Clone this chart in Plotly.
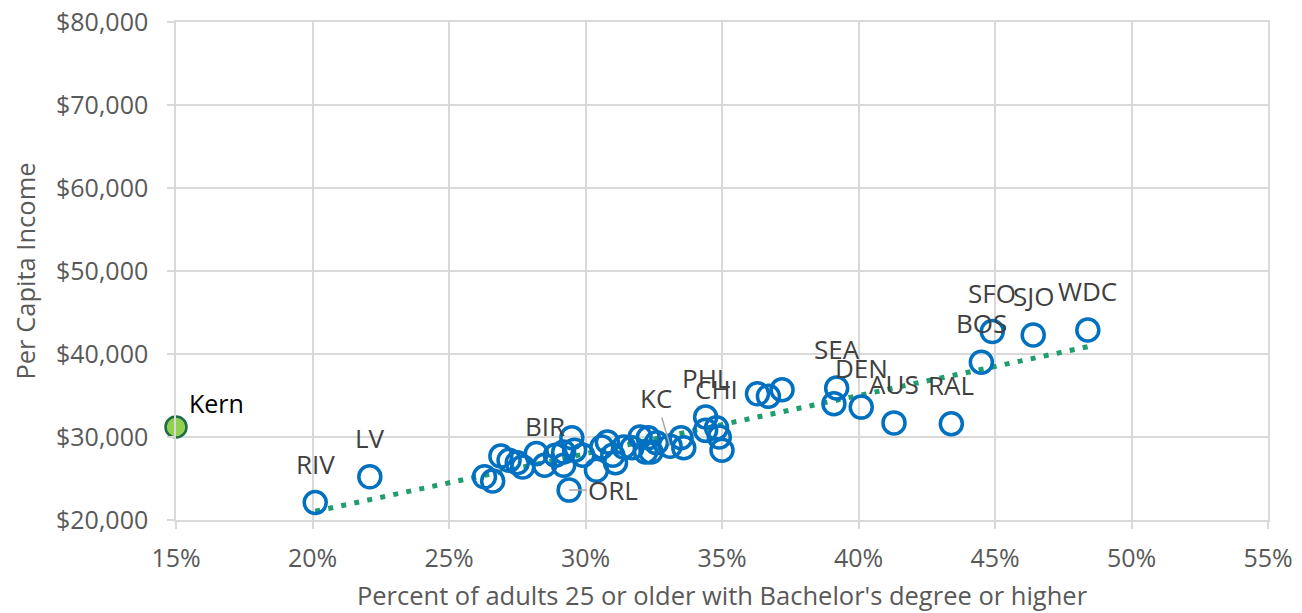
import numpy as np
import plotly.graph_objects as go

# Metro areas: percent of adults 25+ with bachelor's degree, per capita income
edu_pct = [20.1, 22.1, 26.3, 26.6, 26.9, 27.2, 27.5, 27.7, 28.2, 28.5,
           28.9, 29.2, 29.5, 29.2, 29.6, 29.4, 29.9, 30.4, 30.6, 30.8,
           31.0, 31.1, 31.4, 31.7, 32.0, 32.2, 32.4, 32.3, 32.6, 33.1,
           33.5, 33.6, 34.4, 34.4, 34.8, 34.9, 35.0, 36.3, 36.7, 37.2,
           39.2, 39.1, 40.1, 41.3, 43.4, 44.5, 44.9, 46.4, 48.4]
income = [22100, 25200, 25200, 24700, 27700, 27200, 26900, 26400, 28000, 26600,
          27800, 26600, 29900, 28200, 28400, 23600, 27800, 26000, 28800, 29400,
          27800, 26900, 28800, 28700, 30000, 28200, 28200, 29900, 29300, 28900,
          29900, 28700, 32400, 30800, 31100, 30000, 28400, 35200, 34900, 35700,
          35900, 34000, 33600, 31700, 31600, 39000, 42700, 42300, 42900]
labels = ["RIV", "LV", "", "", "", "", "", "", "", "BIR",
          "", "", "", "", "", "ORL", "", "", "", "",
          "", "", "", "", "", "", "", "", "", "KC",
          "", "", "PHL", "", "CHI", "", "", "", "", "",
          "SEA", "", "DEN", "AUS", "RAL", "BOS", "SFO", "SJO", "WDC"]

kern_pct = [15.0]
kern_income = [31200]
kern_label = "Kern"

x_ticks = [15, 20, 25, 30, 35, 40, 45, 50, 55]
y_ticks = [20000, 30000, 40000, 50000, 60000, 70000, 80000]

FONT = "Open Sans"
LABEL_COLOR = "#404040"
AXIS_TEXT = "#595959"
GRID = "#D9D9D9"

fig = go.Figure()

# Linear trendline fitted to the metro points
slope, intercept = np.polyfit(edu_pct, income, 1)
tx = np.array([min(edu_pct), max(edu_pct)])
fig.add_trace(go.Scatter(
    x=tx, y=slope * tx + intercept, mode="lines",
    line=dict(color="#1F9E6C", width=5, dash="5px,8.3px"),
    hoverinfo="skip", showlegend=False))

fig.add_trace(go.Scatter(
    x=edu_pct, y=income, mode="markers",
    marker=dict(symbol="circle-open", size=22, color="#0070C0",
                line=dict(width=3.5, color="#0070C0")),
    showlegend=False))

fig.add_trace(go.Scatter(
    x=kern_pct, y=kern_income, mode="markers",
    marker=dict(symbol="circle", size=21, color="#92D050",
                line=dict(width=2.5, color="#1E6B47")),
    cliponaxis=False, showlegend=False))

special = {"KC": dict(ax=-14, ay=-48),
           "ORL": dict(ax=44, ay=0)}
for xv, yv, lab in zip(edu_pct, income, labels):
    if not lab:
        continue
    if lab in special:
        s = special[lab]
        fig.add_annotation(x=xv, y=yv, text=lab, showarrow=True,
                           ax=s["ax"], ay=s["ay"], arrowhead=0,
                           arrowwidth=1.5, arrowcolor="#A6A6A6", standoff=0,
                           font=dict(family=FONT, size=26, color=LABEL_COLOR))
    else:
        fig.add_annotation(x=xv, y=yv, text=lab, showarrow=False,
                           yshift=39, xanchor="center", yanchor="middle",
                           font=dict(family=FONT, size=26, color=LABEL_COLOR))

fig.add_annotation(x=kern_pct[0], y=kern_income[0], text=kern_label,
                   showarrow=False, xshift=40, yshift=24,
                   xanchor="center", yanchor="middle",
                   font=dict(family=FONT, size=25, color="#000000"))

# The page adds an 8px body margin, so the margins are offset accordingly
fig.update_layout(
    width=1302, height=613,
    margin=dict(l=168, r=42, t=14, b=101),
    paper_bgcolor="white", plot_bgcolor="white",
    font=dict(family=FONT, color=AXIS_TEXT),
)
fig.update_xaxes(
    range=[15, 55], tickvals=x_ticks,
    ticktext=[f"{v}%" for v in x_ticks],
    showgrid=True, gridcolor=GRID, gridwidth=1.5,
    showline=True, linecolor=GRID, linewidth=1.5, mirror=True,
    ticks="outside", ticklen=7, tickcolor=GRID, tickwidth=1.5,
    tickfont=dict(family=FONT, size=25, color=AXIS_TEXT),
    ticklabelstandoff=8, ticklabeloverflow="allow",
    zeroline=False, automargin=False,
    title=dict(text="Percent of adults 25 or older with Bachelor's degree or higher",
               font=dict(family=FONT, size=25.5, color=AXIS_TEXT), standoff=14),
)
fig.update_yaxes(
    range=[20000, 80000], tickvals=y_ticks,
    ticktext=[f"${v:,}" for v in y_ticks],
    showgrid=True, gridcolor=GRID, gridwidth=1.5,
    showline=True, linecolor=GRID, linewidth=1.5, mirror=True,
    ticks="outside", ticklen=7, tickcolor=GRID, tickwidth=1.5,
    tickfont=dict(family=FONT, size=25, color=AXIS_TEXT),
    ticklabelstandoff=14, ticklabeloverflow="allow",
    zeroline=False, automargin=False,
    title=dict(text="Per Capita Income",
               font=dict(family=FONT, size=25.5, color=AXIS_TEXT), standoff=24),
)

fig.write_html("out.html")
